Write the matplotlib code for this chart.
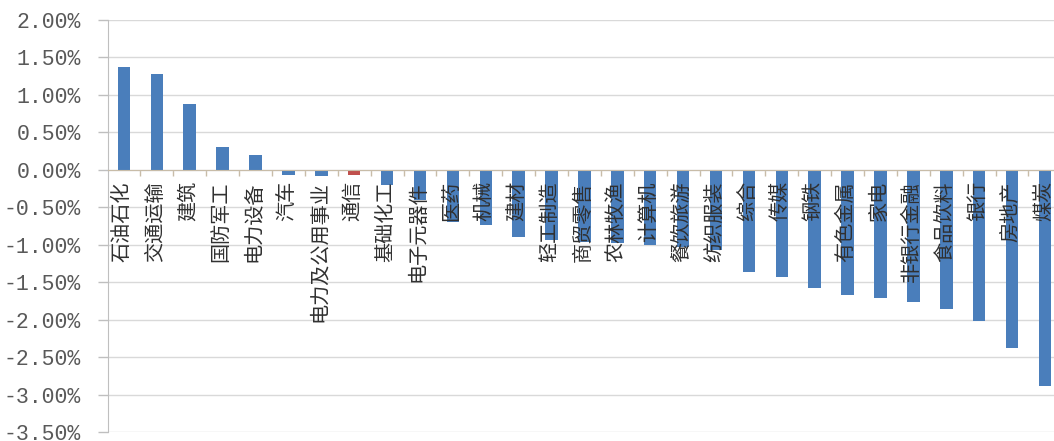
import numpy as np
import matplotlib.pyplot as plt
from matplotlib.ticker import FixedLocator, FuncFormatter

# 行业涨跌幅
sectors = ["石油石化", "交通运输", "建筑", "国防军工", "电力设备", "汽车",
           "电力及公用事业", "通信", "基础化工", "电子元器件", "医药", "机械",
           "建材", "轻工制造", "商贸零售", "农林牧渔", "计算机", "餐饮旅游",
           "纺织服装", "综合", "传媒", "钢铁", "有色金属", "家电", "非银行金融",
           "食品饮料", "银行", "房地产", "煤炭"]
returns = [1.37, 1.28, 0.88, 0.31, 0.20, -0.07,
           -0.08, -0.07, -0.20, -0.40, -0.70, -0.73,
           -0.89, -0.93, -0.96, -0.98, -1.00, -1.03,
           -1.07, -1.36, -1.43, -1.57, -1.67, -1.71, -1.76,
           -1.85, -2.01, -2.37, -2.88]
highlight = "通信"

y_ticks = np.arange(-3.5, 2.01, 0.5)

blue = "#4a7ebb"
red = "#c0504d"
colors = [red if s == highlight else blue for s in sectors]

plt.rcParams['font.family'] = ['Noto Sans CJK SC', 'DejaVu Sans']

fig = plt.figure(figsize=(10.54, 4.41), dpi=100)
ax = fig.add_axes([0.102, 0.0193, 0.905, 0.9354])

x = np.arange(len(sectors))
ax.bar(x, returns, width=0.38, color=colors, zorder=3)

ax.set_xlim(-0.5, len(sectors) - 0.5)
ax.set_ylim(-3.5, 2.0)
ax.yaxis.set_major_locator(FixedLocator(y_ticks))
ax.yaxis.set_major_formatter(FuncFormatter(lambda v, p: f"{v:.2f}%"))
ax.grid(axis='y', color='#d9d9d9', linewidth=1, zorder=0)

for lbl in ax.get_yticklabels():
    lbl.set_family(['Liberation Mono', 'DejaVu Sans'])
    lbl.set_fontsize(15.5)
    lbl.set_color('#595959')
ax.tick_params(axis='y', direction='out', length=7, width=1, color='#bfbfbf', pad=12)

# 类别轴放在0处，刻度在类别之间
ax.spines['top'].set_visible(False)
ax.spines['right'].set_visible(False)
ax.spines['left'].set_color('#bfbfbf')
ax.spines['bottom'].set_position(('data', 0))
ax.spines['bottom'].set_color('#c8bca8')
ax.spines['bottom'].set_zorder(4)
ax.set_xticks([])
ax.xaxis.set_minor_locator(FixedLocator(x[:-1] + 0.5))
ax.tick_params(axis='x', which='minor', direction='out', length=4, width=1, color='#c8bca8')

for xi, name in zip(x, sectors):
    ax.text(xi - 0.05, -0.15, name, rotation=90, ha='center', va='top',
            fontsize=14.5, color='#303030', zorder=5)

fig.savefig("out.png", dpi=100)
